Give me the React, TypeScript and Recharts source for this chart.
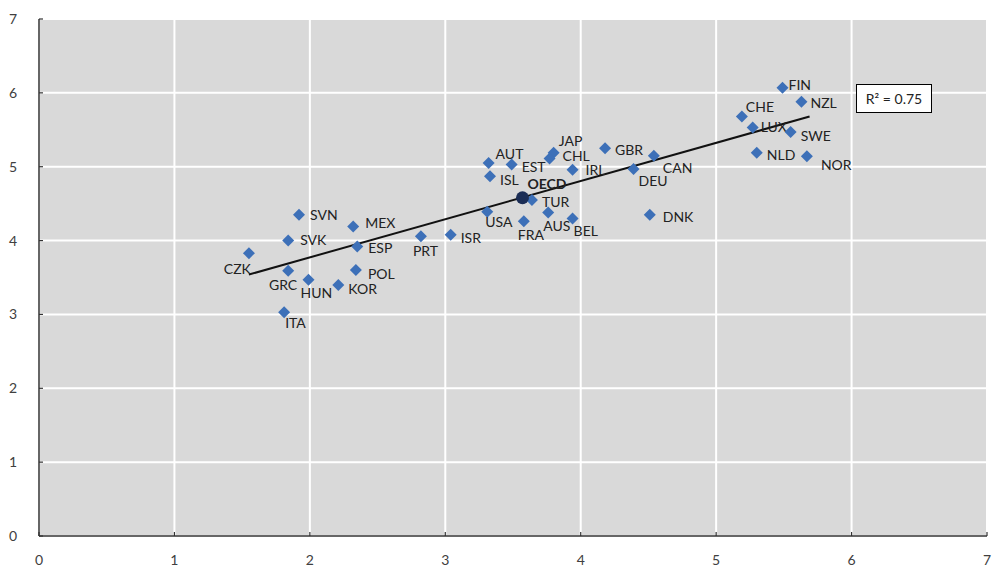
import React from 'react';
import {
  ScatterChart,
  Scatter,
  XAxis,
  YAxis,
  CartesianGrid,
  ReferenceLine,
} from 'recharts';

// Country codes and their paired values
const countries = [
  'CZK', 'SVN', 'SVK', 'GRC', 'HUN', 'KOR', 'ITA', 'MEX', 'ESP', 'POL',
  'PRT', 'ISR', 'USA', 'AUT', 'EST', 'ISL', 'TUR', 'FRA', 'AUS', 'BEL',
  'JAP', 'CHL', 'IRL', 'GBR', 'CAN', 'DEU', 'DNK', 'FIN', 'NZL', 'CHE',
  'LUX', 'SWE', 'NLD', 'NOR',
];
const xValues = [
  1.55, 1.92, 1.84, 1.84, 1.99, 2.21, 1.81, 2.32, 2.35, 2.34,
  2.82, 3.04, 3.31, 3.32, 3.49, 3.33, 3.64, 3.58, 3.76, 3.94,
  3.80, 3.77, 3.94, 4.18, 4.54, 4.39, 4.51, 5.49, 5.63, 5.19,
  5.27, 5.55, 5.30, 5.67,
];
const yValues = [
  3.83, 4.35, 4.00, 3.59, 3.47, 3.40, 3.03, 4.19, 3.92, 3.60,
  4.06, 4.08, 4.39, 5.05, 5.03, 4.87, 4.55, 4.26, 4.38, 4.30,
  5.19, 5.11, 4.96, 5.25, 5.15, 4.97, 4.35, 6.07, 5.88, 5.68,
  5.53, 5.47, 5.19, 5.14,
];

// OECD average
const oecdName = 'OECD';
const oecdX = 3.57;
const oecdY = 4.58;

// Linear trend endpoints and fit
const trendX = [1.55, 5.69];
const trendY = [3.54, 5.68];
const rSquared = '0.75';

const axisTicks = [0, 1, 2, 3, 4, 5, 6, 7];

// Label placement around each marker: [dx, dy, anchor]
type Place = [number, number, 'start' | 'middle' | 'end'];
const labelPlacement: Record<string, Place> = {
  CZK: [2, 15, 'end'],
  SVN: [11, 0, 'start'],
  SVK: [12, -1, 'start'],
  GRC: [9, 14, 'end'],
  HUN: [-8, 13, 'start'],
  KOR: [10, 4, 'start'],
  ITA: [1, 10, 'start'],
  MEX: [12, -4, 'start'],
  ESP: [11, 1, 'start'],
  POL: [12, 3, 'start'],
  PRT: [-8, 14, 'start'],
  ISR: [10, 3, 'start'],
  USA: [-2, 10, 'start'],
  AUT: [7, -10, 'start'],
  EST: [10, 2, 'start'],
  ISL: [10, 3, 'start'],
  OECD: [5, -14, 'start'],
  TUR: [10, 2, 'start'],
  FRA: [-6, 13, 'start'],
  AUS: [-5, 13, 'start'],
  BEL: [1, 12, 'start'],
  JAP: [5, -12, 'start'],
  CHL: [13, -3, 'start'],
  IRL: [13, 0, 'start'],
  GBR: [10, 1, 'start'],
  CAN: [9, 12, 'start'],
  DEU: [5, 12, 'start'],
  DNK: [13, 2, 'start'],
  FIN: [6, -3, 'start'],
  NZL: [9, 1, 'start'],
  CHE: [4, -10, 'start'],
  LUX: [8, -1, 'start'],
  SWE: [10, 3, 'start'],
  NLD: [10, 2, 'start'],
  NOR: [14, 8, 'start'],
};

const countryData = countries.map((name, i) => ({
  name,
  x: xValues[i],
  y: yValues[i],
}));
const oecdData = [{ name: oecdName, x: oecdX, y: oecdY }];

const FONT = 'Lato, "Open Sans", sans-serif';
const MARKER = '#3d70b8';
const LABEL_COLOR = '#222';

function PointLabel({ cx, cy, name, bold }: { cx: number; cy: number; name: string; bold?: boolean }) {
  const [dx, dy, anchor] = labelPlacement[name] || [10, 0, 'start'];
  return (
    <text
      x={cx + dx}
      y={cy + dy}
      textAnchor={anchor}
      dominantBaseline="central"
      fontFamily={FONT}
      fontSize={14}
      fontWeight={bold ? 700 : 400}
      fill={LABEL_COLOR}
    >
      {name}
    </text>
  );
}

function DiamondPoint(props: any) {
  const { cx, cy, payload } = props;
  const h = 6;
  return (
    <g>
      <polygon
        points={`${cx},${cy - h} ${cx + h},${cy} ${cx},${cy + h} ${cx - h},${cy}`}
        fill={MARKER}
      />
      <PointLabel cx={cx} cy={cy} name={payload.name} />
    </g>
  );
}

function OecdPoint(props: any) {
  const { cx, cy, payload } = props;
  return (
    <g>
      <circle cx={cx} cy={cy} r={6.5} fill="#1b2d55" />
      <PointLabel cx={cx} cy={cy} name={payload.name} bold />
    </g>
  );
}

export default function App() {
  return (
    <div
      style={{
        position: 'absolute',
        left: 0,
        top: 0,
        width: 993,
        height: 569,
        background: '#fff',
      }}
    >
      <ScatterChart
        width={993}
        height={569}
        margin={{ top: 19, right: 6, left: 0, bottom: 0 }}
      >
        <CartesianGrid fill="#d9d9d9" stroke="#ffffff" strokeWidth={2} />
        <XAxis
          type="number"
          dataKey="x"
          domain={[0, 7]}
          ticks={axisTicks}
          allowDataOverflow
          height={33}
          axisLine={{ stroke: '#333', strokeWidth: 1.5 }}
          tickLine={{ stroke: '#333', strokeWidth: 1.2 }}
          tickSize={-4}
          tickMargin={23}
          tick={{ fill: '#404040', fontSize: 14, fontFamily: FONT }}
        />
        <YAxis
          type="number"
          dataKey="y"
          domain={[0, 7]}
          ticks={axisTicks}
          allowDataOverflow
          width={39}
          axisLine={{ stroke: '#333', strokeWidth: 1.5 }}
          tickLine={{ stroke: '#333', strokeWidth: 1.2 }}
          tickSize={-4}
          tickMargin={26}
          tick={{ fill: '#404040', fontSize: 14, fontFamily: FONT }}
        />
        <ReferenceLine
          segment={[
            { x: trendX[0], y: trendY[0] },
            { x: trendX[1], y: trendY[1] },
          ]}
          stroke="#111"
          strokeWidth={2}
          ifOverflow="visible"
        />
        <Scatter
          data={countryData}
          shape={(p: any) => <DiamondPoint {...p} />}
          isAnimationActive={false}
        />
        <Scatter
          data={oecdData}
          shape={(p: any) => <OecdPoint {...p} />}
          isAnimationActive={false}
        />
      </ScatterChart>
      <div
        style={{
          position: 'absolute',
          left: 856,
          top: 84,
          width: 76,
          height: 29,
          boxSizing: 'border-box',
          border: '1px solid #000',
          background: '#fff',
          display: 'flex',
          alignItems: 'center',
          justifyContent: 'center',
          fontFamily: FONT,
          fontSize: 14,
          color: '#222',
        }}
      >
        R² = {rSquared}
      </div>
    </div>
  );
}
